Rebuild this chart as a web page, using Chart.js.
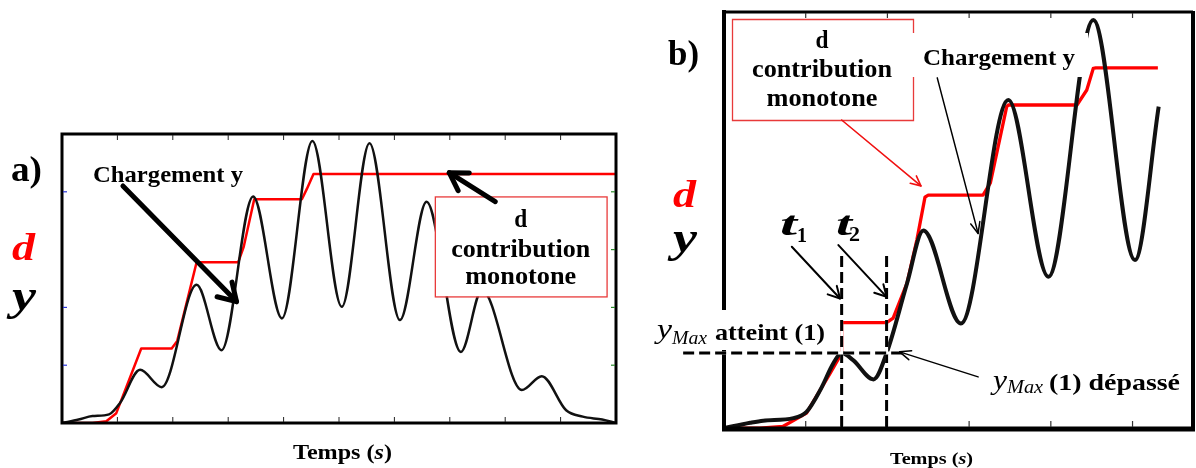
<!DOCTYPE html>
<html><head><meta charset="utf-8">
<script src="https://cdn.jsdelivr.net/npm/chart.js@4"></script>
<style>
html,body{margin:0;padding:0;background:#fff;width:1196px;height:468px;overflow:hidden}
canvas{position:absolute;top:0}
#ca{left:0}
#cb{left:640px}
</style></head>
<body>
<canvas id="ca" width="640" height="468"></canvas>
<canvas id="cb" width="556" height="468"></canvas>
<script>
// ---------- Panel a) data ----------
const aBlackX = [0, 0.3, 0.55, 0.85, 1.05, 1.41, 1.80, 2.43, 2.88, 3.45, 3.97, 4.52, 5.05, 5.55, 6.10, 6.58, 7.20, 7.58, 8.30, 8.66, 9.10, 9.40, 9.75, 10];
const aBlackY = [0, 0.06, 0.12, 0.15, 0.35, 0.92, 0.62, 2.39, 1.26, 3.92, 1.81, 4.88, 2.01, 4.84, 1.78, 3.83, 1.23, 2.30, 0.57, 0.81, 0.22, 0.11, 0.06, 0];
const aRedX = [0, 0.55, 0.80, 0.98, 1.43, 1.98, 2.08, 2.43, 3.18, 3.28, 3.47, 4.33, 4.42, 4.54, 10];
const aRedY = [0, 0, 0.03, 0.17, 1.29, 1.29, 1.42, 2.78, 2.78, 3.05, 3.87, 3.87, 4.05, 4.31, 4.31];
const aXTicks = [1, 2, 3, 4, 5, 6, 7, 8, 9];
const aYTicksLeft = [1, 2, 4];
const aYTicksRight = [1, 2, 3, 4];
// annotations (data units): [x1, y1, x2(tip), y2(tip)]
const aArrowCharge = [1.10, 4.10, 3.15, 2.10];
const aArrowBox = [7.82, 3.83, 6.99, 4.33];
const aBox = [6.73, 3.92, 9.83, 2.19];

// ---------- Panel b) data ----------
const bBlackX = [0, 0.32, 0.48, 0.85, 1.01, 1.18, 1.34, 1.44, 1.58, 1.83, 1.99, 2.24, 2.44, 2.90, 3.48, 3.97, 4.52, 5.03, 5.32];
const bBlackY = [0.02, 0.15, 0.20, 0.26, 0.41, 0.94, 1.58, 1.82, 1.65, 1.19, 1.82, 3.49, 4.76, 2.53, 7.89, 3.65, 9.81, 4.05, 7.73];
const bRedX = [0, 0.44, 0.72, 1.01, 1.30, 1.44, 1.44, 1.99, 2.07, 2.24, 2.36, 2.46, 2.50, 3.17, 3.26, 3.46, 3.48, 4.32, 4.44, 4.52, 4.55, 5.31];
const bRedY = [0.02, 0.02, 0.06, 0.38, 1.34, 1.82, 2.55, 2.55, 2.66, 3.50, 4.53, 5.56, 5.61, 5.61, 5.90, 7.73, 7.77, 7.77, 8.13, 8.65, 8.66, 8.66];
const bXTicks = [1, 2, 3, 4, 5];
const bT = [1.44, 1.99];          // t1, t2
const bYMax1 = 1.82;              // yMax (1)
const bDashTop = 4.22;
const bDashH = [-0.50, 2.18];
const bArrowT1 = [0.83, 4.37, 1.42, 3.13];
const bArrowT2 = [1.40, 4.41, 1.99, 3.17];
const bArrowDep = [3.11, 1.25, 2.15, 1.85];
const bArrowCharge = [2.61, 8.42, 3.11, 4.69];
const bArrowBox = [1.44, 7.41, 2.41, 5.83];

const pts = (xs, ys) => xs.map((x, i) => ({x, y: ys[i]}));
const SERIF = '"Liberation Serif", "DejaVu Serif", serif';
const F = (style, size) => style + ' ' + size + 'px ' + SERIF;
const RED = '#ff0000';

function rich(ctx, parts, x, y, totalW) {
  ctx.save();
  let tot = 0;
  parts.forEach(p => { ctx.font = p.f; p.w = ctx.measureText(p.t).width; tot += p.w; });
  const s = totalW ? totalW / tot : 1;
  ctx.translate(x, y);
  ctx.scale(s, 1);
  ctx.textBaseline = 'alphabetic';
  ctx.textAlign = 'left';
  let cx = 0;
  parts.forEach(p => { ctx.font = p.f; ctx.fillStyle = p.c || '#000'; ctx.fillText(p.t, cx, p.dy || 0); cx += p.w; });
  ctx.restore();
}
function txt(ctx, t, x, y, f, c, w) { rich(ctx, [{t, f, c}], x, y, w); }
function ctxt(ctx, t, cx, y, f, w) { rich(ctx, [{t, f}], cx - w / 2, y, w); }

function arrow(ctx, x1, y1, x2, y2, lw, head, color, ang) {
  ctx.save();
  ctx.strokeStyle = color; ctx.lineWidth = lw; ctx.lineCap = 'round'; ctx.lineJoin = 'round';
  ctx.beginPath(); ctx.moveTo(x1, y1); ctx.lineTo(x2, y2); ctx.stroke();
  const a = Math.atan2(y2 - y1, x2 - x1), d = ang || 0.5;
  ctx.beginPath();
  ctx.moveTo(x2 - head * Math.cos(a - d), y2 - head * Math.sin(a - d));
  ctx.lineTo(x2, y2);
  ctx.lineTo(x2 - head * Math.cos(a + d), y2 - head * Math.sin(a + d));
  ctx.stroke();
  ctx.restore();
}
function dashed(ctx, x1, y1, x2, y2) {
  ctx.save();
  ctx.lineWidth = 3;
  ctx.strokeStyle = '#fff';
  ctx.beginPath(); ctx.moveTo(x1, y1); ctx.lineTo(x2, y2); ctx.stroke();
  ctx.strokeStyle = '#000';
  ctx.setLineDash([11, 5]);
  ctx.beginPath(); ctx.moveTo(x1, y1); ctx.lineTo(x2, y2); ctx.stroke();
  ctx.restore();
}
function line(ctx, x1, y1, x2, y2, lw, c) {
  ctx.save(); ctx.strokeStyle = c; ctx.lineWidth = lw;
  ctx.beginPath(); ctx.moveTo(x1, y1); ctx.lineTo(x2, y2); ctx.stroke(); ctx.restore();
}

const annotA = {
  id: 'annotA',
  afterDatasetsDraw(chart) {
    const ctx = chart.ctx, a = chart.chartArea;
    const X = v => chart.scales.x.getPixelForValue(v), Y = v => chart.scales.y.getPixelForValue(v);
    // frame
    ctx.save(); ctx.strokeStyle = '#000'; ctx.lineWidth = 3;
    ctx.strokeRect(a.left, a.top, a.right - a.left, a.bottom - a.top); ctx.restore();
    aXTicks.forEach(v => { line(ctx, X(v), a.bottom - 1, X(v), a.bottom - 6, 1, '#222'); line(ctx, X(v), a.top + 1, X(v), a.top + 6, 1, '#222'); });
    aYTicksLeft.forEach(v => line(ctx, a.left + 1, Y(v), a.left + 5, Y(v), 1.2, '#2a35d8'));
    aYTicksRight.forEach(v => line(ctx, a.right - 1, Y(v), a.right - 5, Y(v), 1.2, '#2a8a2a'));
    // red box
    ctx.save();
    const bx1 = X(aBox[0]), by1 = Y(aBox[1]), bx2 = X(aBox[2]), by2 = Y(aBox[3]);
    ctx.fillStyle = '#fff'; ctx.fillRect(bx1, by1, bx2 - bx1, by2 - by1);
    ctx.strokeStyle = '#e83a3a'; ctx.lineWidth = 1.3; ctx.strokeRect(bx1 + 0.5, by1 + 0.5, bx2 - bx1, by2 - by1);
    ctx.restore();
    const bc = (bx1 + bx2) / 2;
    ctxt(ctx, 'd', bc, 227, F('bold', 25), 13);
    ctxt(ctx, 'contribution', bc, 257, F('bold', 25), 139);
    ctxt(ctx, 'monotone', bc, 284, F('bold', 25), 111);
    // arrows
    arrow(ctx, X(aArrowCharge[0]), Y(aArrowCharge[1]), X(aArrowCharge[2]), Y(aArrowCharge[3]), 5, 20, '#000', 0.55);
    arrow(ctx, X(aArrowBox[0]), Y(aArrowBox[1]), X(aArrowBox[2]), Y(aArrowBox[3]), 5, 20, '#000', 0.55);
    // labels
    txt(ctx, 'Chargement y', 93, 182, F('bold', 24), '#000', 150);
    txt(ctx, 'a)', 11, 181, F('bold', 36), '#000', 31);
    txt(ctx, 'd', 12, 260, F('bold italic', 38), RED, 23);
    txt(ctx, 'y', 12, 310, F('bold italic', 44), '#000', 24);
    rich(ctx, [{t: 'Temps (', f: F('bold', 20)}, {t: 's', f: F('bold italic', 20)}, {t: ')', f: F('bold', 20)}], 293, 459, 99);
  }
};

const OX = 640;
const annotB = {
  id: 'annotB',
  afterDatasetsDraw(chart) {
    const ctx = chart.ctx, a = chart.chartArea;
    const X = v => chart.scales.x.getPixelForValue(v), Y = v => chart.scales.y.getPixelForValue(v);
    // frame
    line(ctx, a.left, a.top - 2, a.left, a.bottom + 2, 4, '#000');
    line(ctx, a.left - 2, a.top, a.right, a.top, 3, '#000');
    line(ctx, a.left - 2, a.bottom, a.right + 2, a.bottom, 5, '#000');
    line(ctx, a.right, a.top - 1, a.right, a.bottom + 2, 4, '#000');
    bXTicks.forEach(v => { line(ctx, X(v), a.bottom - 2, X(v), a.bottom - 8, 1.2, '#333'); line(ctx, X(v), a.top + 1, X(v), a.top + 6, 1.2, '#333'); });
    // dashed guides
    bT.forEach(t => dashed(ctx, X(t), a.bottom - 2, X(t), Y(bDashTop)));
    dashed(ctx, X(bDashH[0]), Y(bYMax1), X(bDashH[1]), Y(bYMax1));
    // label backgrounds
    ctx.save(); ctx.fillStyle = '#fff';
    ctx.fillRect(652 - OX, 310, 180, 40);
    ctx.fillRect(913 - OX, 33, 175, 44);
    ctx.restore();
    // red box
    ctx.save();
    ctx.fillStyle = '#fff'; ctx.fillRect(732 - OX, 19, 181, 101);
    ctx.strokeStyle = '#e83a3a'; ctx.lineWidth = 1.3;
    ctx.beginPath();
    ctx.moveTo(913.5 - OX, 33); ctx.lineTo(913.5 - OX, 19.5); ctx.lineTo(732.5 - OX, 19.5); ctx.lineTo(732.5 - OX, 120.5);
    ctx.lineTo(913.5 - OX, 120.5); ctx.lineTo(913.5 - OX, 77); ctx.stroke();
    ctx.restore();
    ctxt(ctx, 'd', 822 - OX, 48, F('bold', 25), 13);
    ctxt(ctx, 'contribution', 822 - OX, 77, F('bold', 25), 140);
    ctxt(ctx, 'monotone', 822 - OX, 106, F('bold', 25), 111);
    // arrows
    arrow(ctx, X(bArrowBox[0]), Y(bArrowBox[1]), X(bArrowBox[2]), Y(bArrowBox[3]), 1.6, 11, '#f01010', 0.45);
    arrow(ctx, X(bArrowCharge[0]), Y(bArrowCharge[1]), X(bArrowCharge[2]), Y(bArrowCharge[3]), 1.5, 12, '#000', 0.4);
    arrow(ctx, X(bArrowT1[0]), Y(bArrowT1[1]), X(bArrowT1[2]), Y(bArrowT1[3]), 2, 13, '#000', 0.5);
    arrow(ctx, X(bArrowT2[0]), Y(bArrowT2[1]), X(bArrowT2[2]), Y(bArrowT2[3]), 2, 13, '#000', 0.5);
    arrow(ctx, X(bArrowDep[0]), Y(bArrowDep[1]), X(bArrowDep[2]), Y(bArrowDep[3]), 1.5, 12, '#000', 0.4);
    // labels
    txt(ctx, 'Chargement y', 923 - OX, 65, F('bold', 24), '#000', 152);
    txt(ctx, 'b)', 668 - OX, 65, F('bold', 36), '#000', 31);
    txt(ctx, 'd', 673 - OX, 207, F('bold italic', 38), RED, 23);
    txt(ctx, 'y', 673 - OX, 252, F('bold italic', 44), '#000', 24);
    txt(ctx, 't', 780 - OX, 235, F('bold italic', 34), '#000', 17);
    txt(ctx, '1', 797 - OX, 242, F('bold', 22), '#000', 10);
    txt(ctx, 't', 836 - OX, 235, F('bold italic', 34), '#000', 16);
    txt(ctx, '2', 849 - OX, 241, F('bold', 22), '#000', 11);
    txt(ctx, 'y', 657 - OX, 338, F('italic', 28), '#000', 15);
    txt(ctx, 'Max', 672 - OX, 344, F('italic', 18), '#000', 35);
    txt(ctx, 'atteint (1)', 715 - OX, 340, F('bold', 24), '#000', 110);
    txt(ctx, 'y', 993 - OX, 389, F('italic', 28), '#000', 14);
    txt(ctx, 'Max', 1007 - OX, 393, F('italic', 18), '#000', 36);
    txt(ctx, '(1) dépassé', 1049 - OX, 390, F('bold', 24), '#000', 131);
    rich(ctx, [{t: 'Temps (', f: F('bold', 17)}, {t: 's', f: F('bold italic', 17)}, {t: ')', f: F('bold', 17)}], 890 - OX, 464, 83);
  }
};

function makeChart(id, black, red, bw, rw, xmax, ymax, pad, plugin) {
  return new Chart(document.getElementById(id), {
    type: 'line',
    data: {
      datasets: [
        {label: 'y', data: black, borderColor: '#111', borderWidth: bw, pointRadius: 0, cubicInterpolationMode: 'monotone', fill: false},
        {label: 'd', data: red, borderColor: RED, borderWidth: rw, pointRadius: 0, tension: 0, fill: false, borderJoinStyle: 'round'}
      ]
    },
    options: {
      responsive: false, animation: false, parsing: true,
      layout: {padding: pad},
      plugins: {legend: {display: false}, tooltip: {enabled: false}},
      scales: {
        x: {type: 'linear', min: 0, max: xmax, display: false},
        y: {type: 'linear', min: 0, max: ymax, display: false}
      }
    },
    plugins: [plugin]
  });
}

makeChart('ca', pts(aBlackX, aBlackY), pts(aRedX, aRedY), 2.5, 2.5, 10, 5, {left: 62, top: 134, right: 24, bottom: 45}, annotA);
makeChart('cb', pts(bBlackX, bBlackY), pts(bRedX, bRedY), 4, 3.3, 5.74, 10, {left: 84, top: 12, right: 3, bottom: 39}, annotB);
</script>
</body></html>
